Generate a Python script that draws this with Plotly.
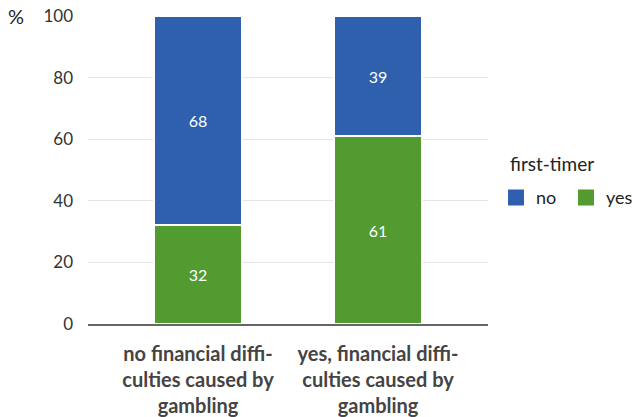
import plotly.graph_objects as go

categories = ["no financial diffi-<br>culties caused by<br>gambling",
              "yes, financial diffi-<br>culties caused by<br>gambling"]
yes_values = [32, 61]
no_values = [68, 39]
tick_vals = [0, 20, 40, 60, 80, 100]

BLUE = "#2e60ad"
GREEN = "#519b30"
FONT = "Lato"

fig = go.Figure()
fig.add_trace(go.Bar(
    x=categories, y=yes_values, name="yes",
    marker=dict(color=GREEN, line=dict(color="white", width=2)),
    text=yes_values, textposition="inside", insidetextanchor="middle",
    textfont=dict(color="white", size=16, family=FONT),
    showlegend=False,
))
fig.add_trace(go.Bar(
    x=categories, y=no_values, name="no",
    marker=dict(color=BLUE, line=dict(color="white", width=2)),
    text=no_values, textposition="inside", insidetextanchor="middle",
    textfont=dict(color="white", size=16, family=FONT),
    showlegend=False,
))

# legend entries with larger square swatches
for name, color in [("no", BLUE), ("yes", GREEN)]:
    fig.add_trace(go.Scatter(
        x=[None], y=[None], mode="markers", name=name,
        marker=dict(symbol="square", size=17, color=color),
        showlegend=True,
    ))

fig.update_layout(
    barmode="stack",
    bargap=0.511,
    width=635, height=417,
    margin=dict(l=88, r=147, t=16, b=93, autoexpand=False),
    paper_bgcolor="white", plot_bgcolor="white",
    font=dict(family=FONT, color="#333333", size=16),
    showlegend=True,
    legend=dict(
        orientation="h", x=1.02, y=0.41, xanchor="left", yanchor="middle",
        font=dict(size=18, color="#222222"), traceorder="normal",
        itemwidth=30, itemsizing="trace",
        entrywidth=25, entrywidthmode="pixels",
    ),
    xaxis=dict(
        range=[-0.611, 1.611], showline=True, linecolor="#666666", linewidth=2,
        ticks="", automargin=False, ticklabelstandoff=11,
        tickfont=dict(size=20, color="#444444", family=FONT),
    ),
    yaxis=dict(
        range=[0, 100], tickvals=tick_vals, showgrid=True, gridcolor="#e6e6e6",
        gridwidth=1, zeroline=False, ticks="", automargin=False,
        ticklabelstandoff=14,
        tickfont=dict(size=17, color="#333333"),
    ),
    annotations=[
        dict(
            text="%", x=0, xref="paper", xshift=-82, y=100, yref="y",
            showarrow=False, xanchor="left", yanchor="middle",
            font=dict(size=20, color="#222222"),
        ),
        dict(
            text="first-timer", x=1, xref="paper", xshift=20, y=0.522, yref="paper",
            showarrow=False, xanchor="left", yanchor="middle",
            font=dict(size=19, color="#222222"),
        ),
    ],
)
fig.update_xaxes(tickprefix="<b>", ticksuffix="</b>")

fig.write_html("out.html")
